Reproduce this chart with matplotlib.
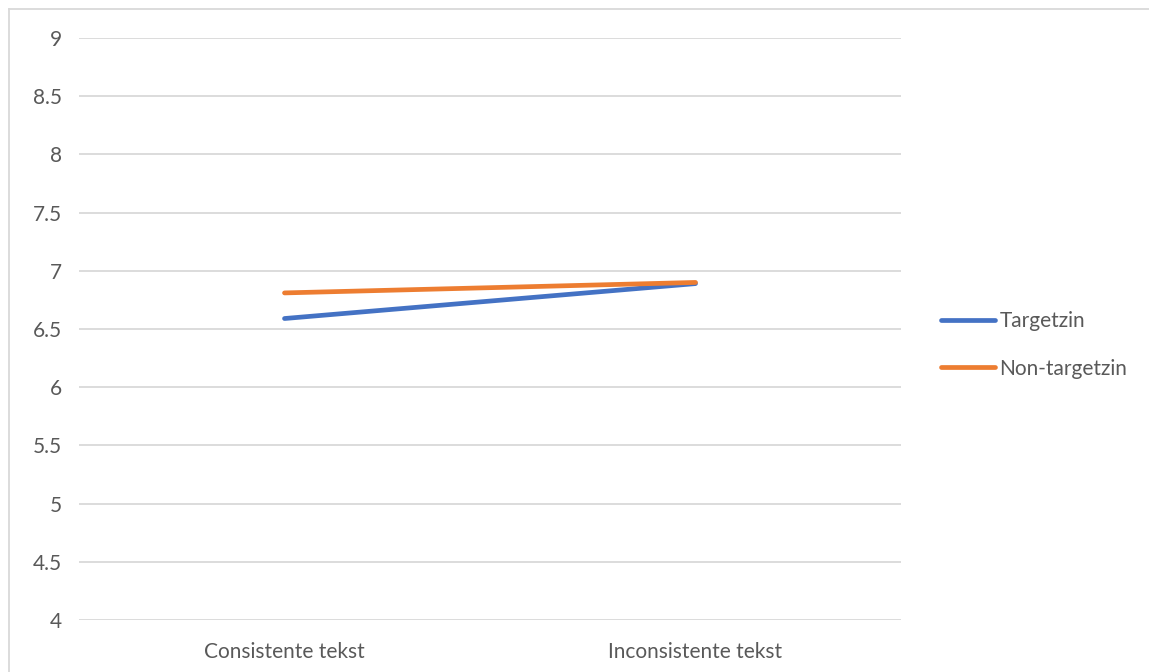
import matplotlib
matplotlib.use('Agg')
import matplotlib.pyplot as plt
from matplotlib.lines import Line2D

categories = ["Consistente tekst", "Inconsistente tekst"]
targetzin = [6.59, 6.89]
non_targetzin = [6.81, 6.90]
series_names = ["Targetzin", "Non-targetzin"]
yticks = [4, 4.5, 5, 5.5, 6, 6.5, 7, 7.5, 8, 8.5, 9]
ytick_labels = ["4", "4.5", "5", "5.5", "6", "6.5", "7", "7.5", "8", "8.5", "9"]

plt.rcParams['font.family'] = ['Lato', 'DejaVu Sans']
txt = '#595959'
grid = '#d9d9d9'
fs = 15

fig = plt.figure(figsize=(11.49, 6.72), dpi=100)
ax = fig.add_axes([79/1149, 52/672, 822/1149, 582/672])

x = [0, 1]
ax.plot(x, targetzin, color='#4472C4', lw=3.4, solid_capstyle='round', label=series_names[0], zorder=3)
ax.plot(x, non_targetzin, color='#ED7D31', lw=3.4, solid_capstyle='round', label=series_names[1], zorder=4)

ax.set_xlim(-0.5, 1.5)
ax.set_ylim(4, 9)
ax.set_yticks(yticks)
ax.set_yticklabels(ytick_labels)
ax.set_xticks(x)
ax.set_xticklabels(categories)
ax.yaxis.grid(True, color=grid, lw=1.3)
ax.set_axisbelow(True)
for s in ax.spines.values():
    s.set_visible(False)
ax.tick_params(axis='both', length=0, colors=txt, labelsize=fs)
ax.tick_params(axis='y', pad=12)
ax.tick_params(axis='x', pad=16)

leg = fig.legend(handles=[Line2D([], [], color='#4472C4', lw=3.4, solid_capstyle='round'),
                          Line2D([], [], color='#ED7D31', lw=3.4, solid_capstyle='round')],
                 labels=series_names, loc='center left', bbox_to_anchor=(941/1149, 1 - 345/672),
                 borderaxespad=0, borderpad=0,
                 frameon=False, fontsize=fs, handlelength=2.6, handletextpad=0.2,
                 labelspacing=1.3, labelcolor=txt)

# chart area border (left and top edges visible)
fig.add_artist(Line2D([8.5/1149, 8.5/1149], [0, 1 - 9/672], color=grid, lw=1.3))
fig.add_artist(Line2D([8.5/1149, 1], [1 - 9/672, 1 - 9/672], color=grid, lw=1.3))

fig.savefig('out.png', dpi=100, facecolor='white')
